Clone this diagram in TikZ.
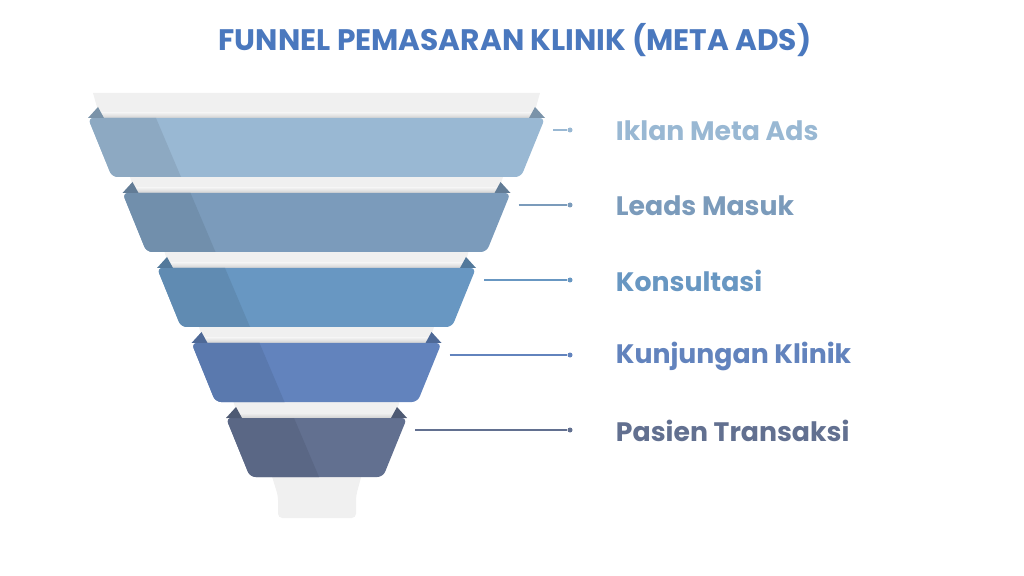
\documentclass[tikz,border=0pt]{standalone}
\usepackage{fontspec}
\setmainfont{Poppins}
\definecolor{titleblue}{HTML}{4A78BE}
\definecolor{stripgray}{HTML}{F0F0F0}
\definecolor{bandA}{HTML}{99B8D3}
\definecolor{bandB}{HTML}{7B9BBB}
\definecolor{bandC}{HTML}{6897C2}
\definecolor{bandD}{HTML}{6283BD}
\definecolor{bandE}{HTML}{627090}
\begin{document}
\begin{tikzpicture}[x=0.025cm, y=-0.025cm,
    enddot/.style={circle, inner sep=0pt, minimum size=5*0.025cm},
    steptext/.style={anchor=west, font=\bfseries\fontsize{19}{23}\selectfont}]
            \useasboundingbox (0,0) rectangle (1024,576);
            \node[font=\bfseries\fontsize{21.1}{25}\selectfont, text=titleblue] (title) at (515,40) {FUNNEL PEMASARAN KLINIK (META ADS)};
            % back of the funnel
            \fill[stripgray, rounded corners=3] (270,470) -- (363,470) -- (356,496) -- (356,518) -- (278,518) -- (278,496) -- cycle;
            \foreach \i in {0,...,4} {
                \pgfmathsetmacro\ty{118+75*\i}
                \pgfmathsetmacro\lx{88+34.5*\i}
                \pgfmathsetmacro\rx{545-34.5*\i}
                \fill[stripgray] (\lx+5,\ty-25) -- (\rx-5,\ty-25) -- (\rx-12,\ty) -- (\lx+12,\ty) -- cycle;
                \shade[top color=stripgray, bottom color=black!18] (\lx+12,\ty-5) rectangle (\rx-12,\ty);
            }
            % bands
            \foreach \i/\col/\txt in {0/bandA/Iklan Meta Ads, 1/bandB/Leads Masuk, 2/bandC/Konsultasi, 3/bandD/Kunjungan Klinik, 4/bandE/Pasien Transaksi} {
                \pgfmathsetmacro\ty{118+75*\i}
                \pgfmathsetmacro\lx{88+34.5*\i}
                \pgfmathsetmacro\rx{545-34.5*\i}
                \begin{scope}
                    \clip[rounded corners=4] (\lx,\ty) -- (\rx,\ty) -- (\rx-24,\ty+59) -- (\lx+24,\ty+59) -- cycle;
                    \fill[\col] (\lx-5,\ty-5) rectangle (\rx+5,\ty+65);
                    \fill[\col!92!black] (\lx-5,\ty) -- (\lx+68,\ty) -- (\lx+93,\ty+59) -- (\lx-5,\ty+59) -- cycle;
                \end{scope}
                \fill[\col!80!black] (\lx,\ty) -- (\lx+10,\ty-11) -- (\lx+16,\ty) -- cycle;
                \fill[\col!80!black] (\rx,\ty) -- (\rx-10,\ty-11) -- (\rx-16,\ty) -- cycle;
                \coordinate (c\i) at (\rx+8,\ty+12);
                \node[enddot, fill=\col] (d\i) at (570,\ty+12) {};
                \draw[\col, line width=0.8pt] (c\i) -- (d\i);
                \node[steptext, text=\col] (s\i) at (611,\ty+13) {\txt};
            }
\end{tikzpicture}
\end{document}
